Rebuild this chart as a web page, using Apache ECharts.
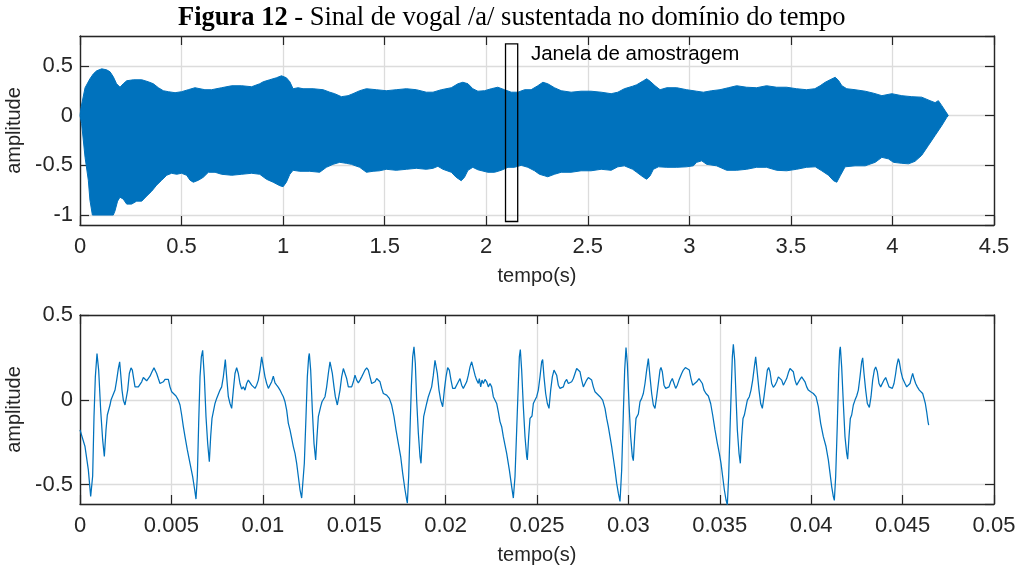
<!DOCTYPE html>
<html>
<head>
<meta charset="utf-8">
<script src="https://cdn.jsdelivr.net/npm/echarts@6/dist/echarts.min.js"></script>
<style>
  html, body { margin: 0; padding: 0; background: #fff; }
  #chart { width: 1018px; height: 567px; }
</style>
</head>
<body>
<div id="chart"></div>
<script>
// Envelope of the sustained /a/ vowel recording: [time (s), amplitude]
const upperEnvelope = [
  [0, 0], [0.005, 0.08], [0.025, 0.28], [0.049, 0.37], [0.066, 0.42], [0.082, 0.45], [0.107, 0.47],
  [0.131, 0.46], [0.148, 0.44], [0.164, 0.39], [0.18, 0.32], [0.197, 0.285], [0.213, 0.32], [0.23, 0.35],
  [0.263, 0.36], [0.304, 0.36], [0.336, 0.34], [0.361, 0.32], [0.386, 0.28], [0.41, 0.25], [0.435, 0.24],
  [0.468, 0.23], [0.5, 0.24], [0.533, 0.26], [0.566, 0.28], [0.615, 0.26], [0.648, 0.26], [0.697, 0.28],
  [0.747, 0.30], [0.796, 0.30], [0.845, 0.29], [0.885, 0.32], [0.902, 0.34], [0.934, 0.36], [0.967, 0.38],
  [0.992, 0.40], [1.016, 0.38], [1.033, 0.34], [1.049, 0.27], [1.074, 0.28], [1.098, 0.27], [1.148, 0.27],
  [1.197, 0.26], [1.23, 0.235], [1.254, 0.22], [1.287, 0.19], [1.32, 0.20], [1.344, 0.22], [1.377, 0.25],
  [1.41, 0.27], [1.459, 0.26], [1.508, 0.25], [1.557, 0.26], [1.607, 0.27], [1.656, 0.26], [1.705, 0.235],
  [1.738, 0.235], [1.779, 0.26], [1.828, 0.28], [1.861, 0.32], [1.885, 0.335], [1.91, 0.32], [1.934, 0.27],
  [1.959, 0.245], [1.992, 0.25], [2.025, 0.27], [2.057, 0.285], [2.09, 0.26], [2.123, 0.235], [2.156, 0.235],
  [2.189, 0.26], [2.221, 0.26], [2.254, 0.30], [2.279, 0.335], [2.303, 0.32], [2.336, 0.28], [2.369, 0.25],
  [2.418, 0.235], [2.467, 0.245], [2.516, 0.245], [2.566, 0.235], [2.615, 0.22], [2.648, 0.235], [2.68, 0.27],
  [2.721, 0.295], [2.741, 0.31], [2.774, 0.35], [2.79, 0.37], [2.807, 0.345], [2.831, 0.30], [2.856, 0.26],
  [2.889, 0.28], [2.938, 0.28], [2.987, 0.26], [3.036, 0.245], [3.069, 0.235], [3.11, 0.25], [3.151, 0.26],
  [3.192, 0.28], [3.233, 0.30], [3.282, 0.285], [3.331, 0.28], [3.38, 0.30], [3.43, 0.285], [3.479, 0.285],
  [3.528, 0.27], [3.577, 0.26], [3.618, 0.27], [3.644, 0.30], [3.669, 0.335], [3.693, 0.36], [3.718, 0.385],
  [3.734, 0.355], [3.751, 0.30], [3.775, 0.27], [3.816, 0.26], [3.866, 0.245], [3.907, 0.225], [3.948, 0.20],
  [3.997, 0.22], [4.046, 0.20], [4.095, 0.19], [4.144, 0.185], [4.185, 0.15], [4.21, 0.13], [4.226, 0.15],
  [4.243, 0.10], [4.259, 0.05], [4.275, 0]
];
const lowerEnvelope = [
  [0, 0], [0.008, -0.08], [0.025, -0.42], [0.041, -0.65], [0.049, -0.85], [0.061, -1.0], [0.164, -1.0],
  [0.172, -0.96], [0.185, -0.86], [0.197, -0.82], [0.213, -0.84], [0.23, -0.89], [0.254, -0.89], [0.279, -0.86],
  [0.304, -0.86], [0.328, -0.81], [0.353, -0.76], [0.377, -0.70], [0.402, -0.65], [0.427, -0.60], [0.451, -0.58],
  [0.476, -0.59], [0.5, -0.58], [0.525, -0.60], [0.542, -0.65], [0.558, -0.67], [0.583, -0.65], [0.607, -0.62],
  [0.632, -0.57], [0.665, -0.57], [0.697, -0.59], [0.747, -0.60], [0.796, -0.59], [0.845, -0.58], [0.885, -0.59],
  [0.918, -0.64], [0.951, -0.67], [0.984, -0.705], [1.0, -0.715], [1.016, -0.67], [1.033, -0.59], [1.049, -0.55],
  [1.082, -0.56], [1.131, -0.56], [1.18, -0.57], [1.213, -0.52], [1.246, -0.49], [1.279, -0.47], [1.311, -0.48],
  [1.336, -0.49], [1.377, -0.52], [1.41, -0.57], [1.443, -0.56], [1.475, -0.555], [1.508, -0.54], [1.557, -0.55],
  [1.607, -0.54], [1.656, -0.53], [1.705, -0.54], [1.738, -0.53], [1.762, -0.51], [1.787, -0.54], [1.828, -0.57],
  [1.852, -0.62], [1.877, -0.655], [1.893, -0.62], [1.91, -0.55], [1.934, -0.52], [1.959, -0.545], [2.008, -0.57],
  [2.041, -0.57], [2.074, -0.55], [2.107, -0.52], [2.139, -0.52], [2.172, -0.50], [2.205, -0.52], [2.238, -0.555],
  [2.262, -0.59], [2.287, -0.605], [2.303, -0.615], [2.336, -0.59], [2.369, -0.57], [2.418, -0.57], [2.467, -0.555],
  [2.516, -0.555], [2.566, -0.54], [2.615, -0.55], [2.648, -0.515], [2.68, -0.505], [2.721, -0.54], [2.741, -0.57],
  [2.774, -0.62], [2.79, -0.64], [2.807, -0.605], [2.823, -0.54], [2.848, -0.515], [2.889, -0.52], [2.938, -0.52],
  [2.987, -0.515], [3.02, -0.505], [3.036, -0.47], [3.061, -0.455], [3.085, -0.49], [3.134, -0.505], [3.184, -0.55],
  [3.233, -0.55], [3.282, -0.54], [3.331, -0.52], [3.38, -0.52], [3.43, -0.55], [3.479, -0.555], [3.528, -0.54],
  [3.577, -0.52], [3.62, -0.515], [3.652, -0.555], [3.685, -0.60], [3.71, -0.655], [3.726, -0.67], [3.743, -0.605],
  [3.767, -0.515], [3.816, -0.505], [3.866, -0.505], [3.915, -0.47], [3.948, -0.42], [3.98, -0.435], [4.005, -0.47],
  [4.046, -0.48], [4.079, -0.485], [4.111, -0.46], [4.144, -0.40], [4.177, -0.30], [4.21, -0.20], [4.243, -0.10],
  [4.267, -0.02], [4.275, 0]
];

// Sampling window marked on the full recording
const windowSpan = [2.095, 2.155];      // seconds
const windowAmpRange = [-1.065, 0.72];  // amplitude
const windowCaption = 'Janela de amostragem';
const captionAt = [2.22, 0.62];

// Samples inside the window, one array per glottal cycle: [time (ms), amplitude]
const cycle1 = [
  [0, -0.178], [0.274, -0.276], [0.456, -0.414], [0.584, -0.571], [0.693, -0.45], [0.766, -0.10], [0.839, 0.135],
  [0.930, 0.273], [1.021, 0.175], [1.131, -0.061], [1.240, -0.237], [1.331, -0.335], [1.422, -0.178], [1.495, -0.09],
  [1.532, -0.10], [1.586, -0.08], [1.641, -0.031], [1.696, -0.002], [1.787, 0.008], [1.915, 0.057], [2.006, 0.116],
  [2.097, 0.184], [2.170, 0.224], [2.224, 0.155], [2.298, 0.057], [2.371, -0.002], [2.462, -0.031], [2.516, -0.041],
  [2.608, 0.057], [2.699, 0.155], [2.790, 0.188], [2.863, 0.175], [2.936, 0.125], [3.009, 0.076], [3.100, 0.071],
  [3.191, 0.076], [3.282, 0.067], [3.374, 0.106], [3.465, 0.131], [3.556, 0.125], [3.647, 0.112], [3.738, 0.12],
  [3.829, 0.139], [3.939, 0.165], [4.048, 0.188], [4.121, 0.178], [4.194, 0.155], [4.285, 0.125], [4.376, 0.096],
  [4.468, 0.09], [4.559, 0.106], [4.650, 0.12], [4.741, 0.129], [4.832, 0.12], [4.923, 0.076], [5.015, 0.047],
  [5.106, 0.037], [5.252, 0.022], [5.379, -0.002], [5.471, -0.031], [5.562, -0.09], [5.653, -0.159], [5.744, -0.218],
  [5.872, -0.296], [6.018, -0.375], [6.163, -0.453], [6.273, -0.531], [6.346, -0.586]
];
const cycle2 = [
  [6.419, -0.453], [6.492, -0.139], [6.565, 0.135], [6.638, 0.253], [6.710, 0.292], [6.802, 0.135], [6.893, -0.10],
  [6.984, -0.257], [7.075, -0.365], [7.148, -0.218], [7.221, -0.11], [7.257, -0.10], [7.312, -0.10], [7.385, -0.022],
  [7.476, 0.008], [7.568, 0.014], [7.659, 0.057], [7.750, 0.076], [7.841, 0.135], [7.950, 0.237], [8.023, 0.135],
  [8.115, 0.018], [8.206, -0.022], [8.297, -0.051], [8.388, 0.057], [8.479, 0.155], [8.570, 0.19], [8.661, 0.155],
  [8.753, 0.096], [8.844, 0.063], [8.935, 0.076], [9.026, 0.057], [9.117, 0.096], [9.208, 0.116], [9.300, 0.12],
  [9.391, 0.086], [9.482, 0.076], [9.573, 0.067], [9.664, 0.086], [9.755, 0.116], [9.847, 0.175], [9.938, 0.253],
  [10.029, 0.194], [10.120, 0.135], [10.212, 0.096], [10.303, 0.067], [10.394, 0.076], [10.485, 0.106], [10.576, 0.139],
  [10.667, 0.10], [10.759, 0.086], [10.850, 0.073], [10.941, 0.057], [11.032, 0.037], [11.123, 0.018], [11.215, -0.012],
  [11.306, -0.061], [11.397, -0.139], [11.488, -0.178], [11.579, -0.227], [11.670, -0.276], [11.762, -0.316],
  [11.853, -0.375], [11.944, -0.453], [12.035, -0.531], [12.126, -0.58], [12.181, -0.59]
];
const cycle3 = [
  [12.272, -0.375], [12.363, -0.10], [12.436, 0.135], [12.509, 0.253], [12.546, 0.273], [12.619, 0.175], [12.710, -0.061],
  [12.801, -0.257], [12.892, -0.355], [12.965, -0.218], [13.038, -0.10], [13.093, -0.096], [13.166, -0.041],
  [13.239, -0.012], [13.312, -0.002], [13.403, 0.018], [13.494, 0.076], [13.585, 0.155], [13.676, 0.224], [13.731, 0.227],
  [13.804, 0.155], [13.895, 0.076], [13.968, 0.018], [14.077, -0.031], [14.132, -0.041], [14.223, 0.057], [14.314, 0.135],
  [14.406, 0.184], [14.497, 0.175], [14.588, 0.125], [14.679, 0.076], [14.770, 0.067], [14.862, 0.076], [14.953, 0.106],
  [15.044, 0.145], [15.135, 0.116], [15.226, 0.10], [15.317, 0.116], [15.409, 0.135], [15.500, 0.155], [15.591, 0.175],
  [15.682, 0.188], [15.773, 0.175], [15.864, 0.135], [15.956, 0.096], [16.047, 0.086], [16.138, 0.106], [16.229, 0.125],
  [16.320, 0.125], [16.412, 0.106], [16.503, 0.067], [16.594, 0.037], [16.776, 0.027], [16.922, 0.008], [17.050, -0.031],
  [17.177, -0.10], [17.287, -0.178], [17.414, -0.257], [17.542, -0.335], [17.651, -0.433], [17.779, -0.531],
  [17.870, -0.59], [17.907, -0.61]
];
const cycle4 = [
  [17.980, -0.453], [18.053, -0.178], [18.126, 0.076], [18.199, 0.253], [18.271, 0.312], [18.344, 0.214], [18.417, -0.002],
  [18.509, -0.198], [18.600, -0.335], [18.654, -0.375], [18.727, -0.218], [18.800, -0.10], [18.873, -0.09],
  [18.964, -0.022], [19.056, 0.018], [19.147, 0.027], [19.238, 0.076], [19.329, 0.145], [19.420, 0.233], [19.475, 0.243],
  [19.548, 0.155], [19.639, 0.057], [19.730, -0.002], [19.840, -0.041], [19.931, 0.057], [20.022, 0.135], [20.113, 0.19],
  [20.204, 0.175], [20.295, 0.116], [20.387, 0.067], [20.514, 0.067], [20.606, 0.076], [20.697, 0.106], [20.788, 0.125],
  [20.879, 0.086], [20.970, 0.067], [21.061, 0.076], [21.153, 0.106], [21.244, 0.145], [21.335, 0.194], [21.426, 0.224],
  [21.517, 0.214], [21.609, 0.145], [21.700, 0.116], [21.791, 0.096], [21.846, 0.125], [21.919, 0.076], [21.992, 0.116],
  [22.064, 0.096], [22.156, 0.12], [22.247, 0.106], [22.338, 0.076], [22.429, 0.096], [22.520, 0.076], [22.611, 0.018],
  [22.703, 0.008], [22.794, -0.022], [22.885, -0.071], [22.976, -0.129], [23.067, -0.159], [23.158, -0.218],
  [23.250, -0.267], [23.341, -0.316], [23.487, -0.414], [23.614, -0.512], [23.706, -0.58]
];
const cycle5 = [
  [23.797, -0.453], [23.888, -0.178], [23.979, 0.096], [24.034, 0.253], [24.088, 0.296], [24.161, 0.175], [24.253, -0.041],
  [24.344, -0.218], [24.435, -0.335], [24.471, -0.355], [24.544, -0.218], [24.617, -0.11], [24.672, -0.10],
  [24.727, -0.096], [24.800, -0.022], [24.891, -0.002], [24.982, 0.018], [25.073, 0.057], [25.164, 0.135], [25.255, 0.224],
  [25.310, 0.237], [25.383, 0.135], [25.474, 0.037], [25.566, -0.022], [25.657, -0.051], [25.748, 0.057], [25.839, 0.135],
  [25.930, 0.175], [26.003, 0.184], [26.076, 0.145], [26.167, 0.086], [26.258, 0.067], [26.350, 0.076], [26.441, 0.076],
  [26.532, 0.106], [26.623, 0.12], [26.714, 0.096], [26.805, 0.086], [26.897, 0.106], [26.988, 0.125], [27.079, 0.155],
  [27.170, 0.184], [27.261, 0.194], [27.353, 0.165], [27.444, 0.116], [27.535, 0.076], [27.626, 0.096], [27.717, 0.116],
  [27.808, 0.131], [27.900, 0.131], [27.991, 0.116], [28.082, 0.076], [28.173, 0.047], [28.264, 0.037], [28.447, 0.018],
  [28.592, -0.002], [28.720, -0.051], [28.811, -0.11], [28.902, -0.159], [28.994, -0.218], [29.085, -0.276],
  [29.176, -0.345], [29.267, -0.414], [29.358, -0.492], [29.449, -0.551], [29.541, -0.60]
];
const cycle6 = [
  [29.632, -0.414], [29.723, -0.08], [29.796, 0.175], [29.869, 0.308], [29.942, 0.214], [30.033, -0.022], [30.124, -0.218],
  [30.215, -0.335], [30.270, -0.359], [30.343, -0.218], [30.416, -0.11], [30.489, -0.10], [30.544, -0.084],
  [30.635, -0.012], [30.726, 0.008], [30.817, 0.037], [30.908, 0.096], [30.999, 0.175], [31.091, 0.243], [31.182, 0.135],
  [31.273, 0.037], [31.364, -0.031], [31.455, -0.051], [31.546, 0.018], [31.638, 0.096], [31.729, 0.175], [31.783, 0.19],
  [31.856, 0.165], [31.948, 0.086], [32.039, 0.067], [32.130, 0.076], [32.221, 0.076], [32.312, 0.106], [32.403, 0.125],
  [32.495, 0.096], [32.586, 0.067], [32.677, 0.086], [32.768, 0.116], [32.914, 0.155], [33.005, 0.175], [33.115, 0.19],
  [33.224, 0.194], [33.333, 0.175], [33.424, 0.125], [33.516, 0.086], [33.607, 0.076], [33.735, 0.106], [33.862, 0.125],
  [33.953, 0.12], [34.045, 0.096], [34.136, 0.057], [34.245, 0.037], [34.373, 0.022], [34.500, -0.022], [34.610, -0.09],
  [34.737, -0.178], [34.865, -0.257], [34.974, -0.316], [35.066, -0.375], [35.157, -0.453], [35.248, -0.531],
  [35.339, -0.59], [35.412, -0.62]
];
const cycle7 = [
  [35.485, -0.453], [35.558, -0.178], [35.631, 0.076], [35.686, 0.253], [35.741, 0.327], [35.814, 0.233], [35.887, 0.018],
  [35.960, -0.178], [36.051, -0.316], [36.124, -0.375], [36.197, -0.218], [36.270, -0.11], [36.343, -0.09],
  [36.416, -0.08], [36.507, -0.002], [36.616, 0.018], [36.707, 0.057], [36.799, 0.116], [36.890, 0.194], [36.963, 0.253],
  [37.054, 0.155], [37.145, 0.057], [37.236, -0.022], [37.327, -0.051], [37.419, 0.018], [37.510, 0.096], [37.601, 0.175],
  [37.674, 0.19], [37.747, 0.165], [37.838, 0.096], [37.929, 0.073], [38.020, 0.086], [38.111, 0.106], [38.203, 0.135],
  [38.294, 0.145], [38.385, 0.116], [38.476, 0.086], [38.567, 0.096], [38.658, 0.125], [38.750, 0.159], [38.841, 0.184],
  [38.932, 0.194], [39.023, 0.165], [39.114, 0.116], [39.205, 0.086], [39.297, 0.096], [39.388, 0.12], [39.479, 0.135],
  [39.570, 0.125], [39.661, 0.106], [39.752, 0.076], [39.844, 0.057], [39.971, 0.047], [40.117, 0.037], [40.263, 0.018],
  [40.391, -0.041], [40.518, -0.139], [40.664, -0.218], [40.810, -0.276], [40.938, -0.355], [41.029, -0.433],
  [41.120, -0.512], [41.211, -0.571], [41.266, -0.594]
];
const cycle8 = [
  [41.339, -0.453], [41.430, -0.139], [41.503, 0.155], [41.558, 0.292], [41.594, 0.312], [41.667, 0.194], [41.758, -0.022],
  [41.849, -0.218], [41.941, -0.316], [41.995, -0.351], [42.068, -0.218], [42.141, -0.11], [42.214, -0.09],
  [42.305, -0.031], [42.396, -0.002], [42.488, 0.022], [42.579, 0.057], [42.670, 0.135], [42.761, 0.224], [42.816, 0.247],
  [42.889, 0.155], [42.980, 0.057], [43.071, -0.022], [43.181, -0.045], [43.272, 0.018], [43.363, 0.116], [43.454, 0.175],
  [43.527, 0.194], [43.618, 0.165], [43.709, 0.096], [43.801, 0.076], [43.892, 0.086], [43.983, 0.116], [44.074, 0.131],
  [44.165, 0.12], [44.256, 0.076], [44.348, 0.067], [44.439, 0.067], [44.530, 0.096], [44.621, 0.155], [44.676, 0.198],
  [44.767, 0.243], [44.822, 0.224], [44.913, 0.165], [45.004, 0.125], [45.077, 0.116], [45.132, 0.096], [45.223, 0.076],
  [45.314, 0.067], [45.405, 0.096], [45.496, 0.135], [45.551, 0.155], [45.624, 0.125], [45.715, 0.096], [45.806, 0.076],
  [45.916, 0.057], [46.007, 0.047], [46.098, 0.037], [46.171, 0.008], [46.244, -0.022], [46.317, -0.071],
  [46.390, -0.129], [46.426, -0.149]
];

const windowSamples = [].concat(cycle1, cycle2, cycle3, cycle4, cycle5, cycle6, cycle7, cycle8)
  .map(([ms, amp]) => [ms / 1000, amp]);

// ---- styling ----
const INK = '#262626';
const GRID_GRAY = '#dcdcdc';
const BLUE = '#0072BD';
const SANS = '"Liberation Sans", Arial, Helvetica, sans-serif';
const SERIF = '"Liberation Serif", "Times New Roman", serif';

function xPair(gridIndex, max, interval) {
  const common = {
    type: 'value', gridIndex, min: 0, max, interval,
    axisLine: { show: true, onZero: false, lineStyle: { color: INK, width: 1.4 } },
    axisTick: { show: true, inside: true, length: 9, lineStyle: { color: INK, width: 1.2 } }
  };
  return [
    Object.assign({}, common, {
      position: 'bottom',
      axisLabel: { color: INK, fontFamily: SANS, fontSize: 22, margin: 11 },
      splitLine: { show: true, lineStyle: { color: GRID_GRAY, width: 1.3 } },
      name: 'tempo(s)', nameLocation: 'middle', nameGap: 41,
      nameTextStyle: { color: INK, fontFamily: SANS, fontSize: 20 }
    }),
    Object.assign({}, common, {
      position: 'top',
      axisLabel: { show: false },
      splitLine: { show: false }
    })
  ];
}

function yPair(gridIndex, min, max, splitNumber, showMaxLabel) {
  const common = {
    type: 'value', gridIndex, min, max, splitNumber,
    axisLine: { show: true, onZero: false, lineStyle: { color: INK, width: 1.4 } },
    axisTick: { show: true, inside: true, length: 9, lineStyle: { color: INK, width: 1.2 } }
  };
  return [
    Object.assign({}, common, {
      position: 'left',
      axisLabel: { color: INK, fontFamily: SANS, fontSize: 22, margin: 7, showMinLabel: false, showMaxLabel },
      splitLine: { show: true, lineStyle: { color: GRID_GRAY, width: 1.3 } },
      name: 'amplitude', nameLocation: 'middle', nameGap: 48,
      nameTextStyle: { color: INK, fontFamily: SANS, fontSize: 20 }
    }),
    Object.assign({}, common, {
      position: 'right',
      axisLabel: { show: false },
      splitLine: { show: false }
    })
  ];
}

const chart = echarts.init(document.getElementById('chart'), null, { renderer: 'canvas' });

chart.setOption({
  animation: false,
  backgroundColor: '#fff',
  title: {
    text: '{b|Figura 12} - Sinal de vogal /a/ sustentada no domínio do tempo',
    left: 178,
    top: 5,
    padding: 0,
    textStyle: {
      fontFamily: SERIF, fontSize: 26.5, fontWeight: 'normal', color: '#000',
      rich: { b: { fontFamily: SERIF, fontSize: 26.5, fontWeight: 'bold', color: '#000' } }
    }
  },
  grid: [
    { left: 80, right: 24, top: 36, height: 189, outerBoundsMode: 'none' },
    { left: 80, right: 24, top: 315, height: 189, outerBoundsMode: 'none' }
  ],
  xAxis: [].concat(xPair(0, 4.5, 0.5), xPair(1, 0.05, 0.005)),
  yAxis: [].concat(yPair(0, -1.1, 0.8, 4, false), yPair(1, -0.615, 0.5, 2, true)),
  series: [
    {
      // full recording drawn as the band between its envelopes
      type: 'custom',
      xAxisIndex: 0, yAxisIndex: 0,
      silent: true,
      data: [[0, 0]],
      renderItem(params, api) {
        const pts = upperEnvelope.map(p => api.coord(p))
          .concat(lowerEnvelope.slice().reverse().map(p => api.coord(p)));
        return {
          type: 'polygon',
          shape: { points: pts },
          style: { fill: BLUE, stroke: BLUE, lineWidth: 1 }
        };
      }
    },
    {
      // sampling window box and its caption
      type: 'custom',
      xAxisIndex: 0, yAxisIndex: 0,
      silent: true,
      z: 5,
      data: [[windowSpan[0], windowAmpRange[1]]],
      renderItem(params, api) {
        const tl = api.coord([windowSpan[0], windowAmpRange[1]]);
        const br = api.coord([windowSpan[1], windowAmpRange[0]]);
        const cap = api.coord(captionAt);
        return {
          type: 'group',
          children: [
            {
              type: 'rect',
              shape: { x: tl[0], y: tl[1], width: br[0] - tl[0], height: br[1] - tl[1] },
              style: { fill: 'none', stroke: '#000', lineWidth: 1.3 }
            },
            {
              type: 'text',
              x: cap[0], y: cap[1],
              style: {
                text: windowCaption, fill: '#000', font: '20.5px ' + SANS,
                textAlign: 'left', textVerticalAlign: 'middle'
              }
            }
          ]
        };
      }
    },
    {
      type: 'line',
      xAxisIndex: 2, yAxisIndex: 2,
      data: windowSamples,
      showSymbol: false,
      symbol: 'none',
      lineStyle: { color: BLUE, width: 1.25 },
      silent: true
    }
  ]
});
</script>
</body>
</html>
